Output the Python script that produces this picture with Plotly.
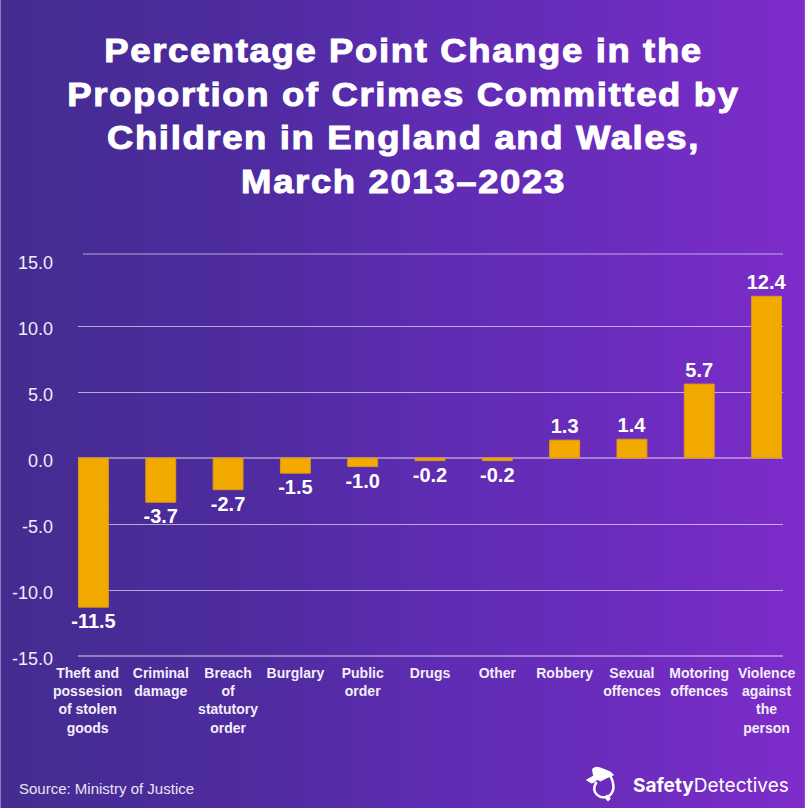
import base64
import plotly.graph_objects as go

NB = "&nbsp;" * 3
categories = [f"<b>Theft and{NB}<br>possesion{NB}<br>of stolen{NB}<br>goods{NB}</b>", "<b>Criminal<br>damage</b>",
              "<b>Breach<br>of<br>statutory<br>order</b>", "<b>Burglary</b>", "<b>Public<br>order</b>", "<b>Drugs</b>",
              "<b>Other</b>", "<b>Robbery</b>", "<b>Sexual<br>offences</b>", "<b>Motoring<br>offences</b>",
              "<b>Violence<br>against<br>the<br>person</b>"]
value_labels = ["-11.5", "-3.7", "-2.7", "-1.5", "-1.0", "-0.2", "-0.2", "1.3", "1.4", "5.7", "12.4"]
bar_heights = [-11.3, -3.35, -2.4, -1.15, -0.65, -0.2, -0.2, 1.35, 1.42, 5.6, 12.25]
y_ticks = [-15, -10, -5, 0, 5, 10, 15]
y_tick_labels = ["-15.0", "-10.0", "-5.0", "0.0", "5.0", "10.0", "15.0"]
grid_values = [-10, -5, 5, 10]
title = "Percentage Point Change in the<br>Proportion of Crimes Committed by<br>Children in England and Wales,<br>March 2013–2023"
source = "Source: Ministry of Justice"

svg = ('<svg xmlns="http://www.w3.org/2000/svg" width="807" height="808" preserveAspectRatio="none">'
       '<defs><linearGradient id="g" x1="0" y1="0" x2="1" y2="0">'
       '<stop offset="0" stop-color="#442c90"/><stop offset="0.33" stop-color="#4f2ba0"/>'
       '<stop offset="0.5" stop-color="#5c2cb0"/><stop offset="0.75" stop-color="#6a2cbc"/>'
       '<stop offset="1" stop-color="#7e2cca"/></linearGradient></defs>'
       '<rect width="807" height="808" fill="url(#g)"/></svg>')
bg = "data:image/svg+xml;base64," + base64.b64encode(svg.encode()).decode()

W, H = 807, 808
L, R, T, B = 78, 785, 254, 660
FONT = "Liberation Sans, Arial, sans-serif"
PX = 13.2
y_low = -15 - 4 / PX
y_top = y_low + (B - T) / PX
LABEL_SHIFT = 2.5 / PX


def px(x):
    return (x - L) / (R - L)


def py(y):
    return (B - y) / (B - T)


def P(cmds):
    out = []
    for c in cmds:
        if isinstance(c, str):
            out.append(c)
        else:
            out.append(f"{px(c[0]):.5f},{py(c[1]):.5f}")
    return " ".join(out)


hat = P(["M", (588, 780), "L", (595, 776), "L", (594, 769), "Q", (597, 766), (602, 768), "L", (612, 772),
         "L", (615, 775), "Q", (607, 778), (602, 781), "Q", (598, 778), (596, 782), "L", (593, 783), "Z"])
ring = P(["M", (598, 782), "Q", (592, 792), (602, 797), "Q", (613, 799), (615, 788), "Q", (615, 780), (611, 775)])
handle = P(["M", (607, 796), "L", (611, 800)])

fig = go.Figure()
# invisible carrier so that the tick-label axis is drawn
fig.add_trace(go.Scatter(x=[0], y=[0], yaxis="y", mode="markers", marker=dict(opacity=0), hoverinfo="skip"))
fig.add_trace(go.Bar(x=list(range(len(categories))), y=bar_heights, yaxis="y2", text=value_labels,
                     textposition="outside", texttemplate="<b>%{text}</b>", cliponaxis=False, constraintext="none",
                     textfont=dict(size=20, color="white", family=FONT),
                     marker=dict(color="#f2a900", line=dict(width=1, color="#d99a12")), width=30 / 67.5))
fig.update_layout(
    width=W, height=H, margin=dict(l=L, r=W - R, t=T, b=H - B), showlegend=False,
    paper_bgcolor="rgba(0,0,0,0)", plot_bgcolor="rgba(0,0,0,0)",
    font=dict(family=FONT, color="white"),
    title=dict(text="<b>" + title + "</b>", x=0.5, xanchor="center", y=1 - 62 / H, yanchor="top",
               font=dict(size=33.5, color="white", family=FONT)),
    xaxis=dict(range=[-15.5 / 67.5, 10 + 16.5 / 67.5], tickmode="array", tickvals=list(range(len(categories))),
               ticktext=categories, tickangle=0, showgrid=False, zeroline=False, ticks="",
               showline=False, ticklabelstandoff=3,
               tickfont=dict(size=14, color="#f3effa", family=FONT)),
    yaxis=dict(range=[y_low + LABEL_SHIFT, y_top + LABEL_SHIFT], tickmode="array", tickvals=y_ticks,
               ticktext=y_tick_labels, showgrid=False, zeroline=False, showline=False, ticks="",
               ticklabelstandoff=24, tickfont=dict(size=18, color="#f0ecf8", family=FONT)),
    yaxis2=dict(range=[y_low, y_top], overlaying="y", side="left", tickmode="array", tickvals=grid_values,
                showticklabels=False, showgrid=True, gridcolor="rgba(255,255,255,0.6)", gridwidth=1,
                zeroline=True, zerolinecolor="rgba(255,255,255,0.4)", zerolinewidth=1.5, showline=False, ticks=""),
    shapes=[dict(type="line", xref="paper", yref="paper", x0=px(83), x1=1, y0=1, y1=1,
                 line=dict(color="rgba(255,255,255,0.6)", width=1)),
            dict(type="line", xref="paper", yref="y2", x0=0, x1=1, y0=-15, y1=-15,
                 line=dict(color="rgba(255,255,255,0.4)", width=2)),
            dict(type="path", xref="paper", yref="paper", path=hat, fillcolor="white", line=dict(color="white", width=1)),
            dict(type="path", xref="paper", yref="paper", path=ring, line=dict(color="white", width=2.5)),
            dict(type="path", xref="paper", yref="paper", path=handle, line=dict(color="white", width=4))],
    images=[dict(source=bg, xref="paper", yref="paper", x=-L / (R - L), y=1 + T / (B - T),
                 sizex=W / (R - L), sizey=H / (B - T), sizing="stretch", layer="below",
                 xanchor="left", yanchor="top")],
    annotations=[dict(text=source, xref="paper", yref="paper", x=px(17), y=py(788),
                      xanchor="left", yanchor="middle", showarrow=False,
                      font=dict(size=15, color="#e8e4f4", family=FONT)),
                 dict(text="<b>Safety</b>Detectives", xref="paper", yref="paper", x=px(633),
                      y=py(785), xanchor="left", yanchor="middle", showarrow=False,
                      font=dict(size=19, color="white", family="Inter, " + FONT))],
)
css = ("html,body{margin:0;padding:0;width:807px;height:808px;overflow:hidden}"
       ".modebar-container{display:none !important}"
       ".gtitle{letter-spacing:1.5px;stroke:white;stroke-width:1px;"
       "transform:scaleX(1.09);transform-origin:403.5px 0}")
fig.write_html("out.html",
               post_script=(f"var s=document.createElement('style');s.textContent='{css}';"
                            "document.head.appendChild(s);"))
